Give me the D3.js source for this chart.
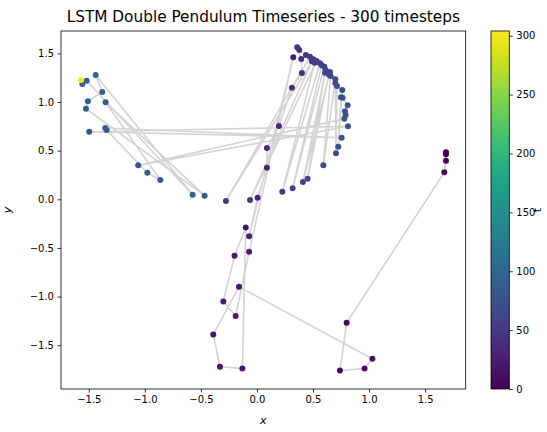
<!DOCTYPE html>
<html><head><meta charset="utf-8">
<script src="https://cdn.jsdelivr.net/npm/d3@7"></script>
<style>body{margin:0;background:#fff}svg{display:block}text{font-family:"DejaVu Sans",sans-serif;fill:#000}</style>
</head><body>
<svg id="c" width="547" height="432"></svg>
<script>
// time index of each predicted point (early purple part, then blue part, last point)
const tVals = [0,2,4,6,8,10,12,14,16,17,18,19,20,21,22,23,24,26,28,30,32,34,36,38,40,42,
  45,46,47,48,49,50,51,52,53,54,55,56,57,58,59,60,61,62,63,64,65,66,67,68,69,70,
  71,72,73,74,75,76,77,78,79,80,81,82,83,84,85,86,87,88,89,90,91,92,93,94,95,96,304];
const xVals = [1.686,1.686,1.686,1.671,0.80,0.74,0.96,1.03,-0.16,-0.39,-0.33,-0.13,-0.10,-0.20,-0.30,-0.19,-0.07,0.324,-0.07,0.006,0.089,0.089,0.196,0.312,0.401,0.395,
  0.36,0.377,0.437,0.473,-0.277,0.502,0.49,-0.062,0.532,0.515,0.226,0.562,0.577,0.318,0.601,0.613,0.41,0.651,0.607,0.452,0.642,0.657,0.592,0.699,0.699,0.705,
  0.714,0.761,0.725,0.749,0.764,0.809,0.785,0.791,0.779,-1.059,0.812,-1.496,0.755,-1.353,-1.341,-0.978,-0.862,-1.350,-0.467,-1.525,-1.508,-1.380,-1.439,-0.574,-1.519,-1.558,-1.570];
const yVals = [0.483,0.462,0.397,0.277,-1.27,-1.76,-1.74,-1.64,-0.90,-1.39,-1.72,-1.74,-0.29,-0.58,-1.05,-1.20,-0.54,1.459,-0.38,0.016,0.325,0.527,0.753,1.147,1.298,1.442,
  1.562,1.534,1.483,1.466,-0.017,1.439,1.418,-0.007,1.421,1.404,0.078,1.398,1.377,0.114,1.363,1.326,0.178,1.308,1.301,0.212,1.281,1.267,0.349,1.233,1.192,0.473,
  1.164,1.123,0.541,1.048,1.044,0.966,0.904,0.866,0.828,0.349,0.750,0.695,0.633,0.733,0.712,0.273,0.198,0.997,0.037,0.931,1.007,1.103,1.277,0.047,1.219,1.185,1.226];
const xTicks = [-1.5,-1.0,-0.5,0.0,0.5,1.0,1.5];
const yTicks = [-1.5,-1.0,-0.5,0.0,0.5,1.0,1.5];
const cTicks = [0,50,100,150,200,250,300];
const titleText = "LSTM Double Pendulum Timeseries - 300 timesteps";

const svg = d3.select("#c");
const L=61, R=465.7, T=31, B=389;
const x = d3.scaleLinear().domain([-1.748,1.862]).range([L,R]);
const y = d3.scaleLinear().domain([-1.95,1.73]).range([B,T]);
const tMax = 304;
const color = d3.scaleSequential(d3.interpolateViridis).domain([0,tMax]);
const pts = tVals.map((t,i)=>({t, x:xVals[i], y:yVals[i]}));

const fmt = d => d<0 ? "\u2212"+Math.abs(d).toFixed(1) : d.toFixed(1);

svg.append("path").datum(pts)
  .attr("d", d3.line().x(d=>x(d.x)).y(d=>y(d.y)))
  .attr("fill","none").attr("stroke","#d3d3d3").attr("stroke-width",1.6);
svg.append("g").selectAll("circle").data(pts).join("circle")
  .attr("cx",d=>x(d.x)).attr("cy",d=>y(d.y)).attr("r",3)
  .attr("fill",d=>color(d.t));

const gx = svg.append("g").attr("transform",`translate(0,${B})`)
  .call(d3.axisBottom(x).tickValues(xTicks).tickFormat(fmt).tickSizeOuter(0).tickSize(3.5).tickPadding(3.5));
const gy = svg.append("g").attr("transform",`translate(${L},0)`)
  .call(d3.axisLeft(y).tickValues(yTicks).tickFormat(fmt).tickSizeOuter(0).tickSize(3.5).tickPadding(3.5));
[gx,gy].forEach(g=>{g.select(".domain").remove();g.selectAll("text").attr("font-size",10).attr("font-family","DejaVu Sans");
  g.selectAll("line").attr("stroke","#000").attr("stroke-width",0.8);});
svg.append("rect").attr("x",L).attr("y",T).attr("width",R-L).attr("height",B-T)
  .attr("fill","none").attr("stroke","#000").attr("stroke-width",0.8);

svg.append("text").attr("x",(L+R)/2).attr("y",22).attr("text-anchor","middle").attr("font-size",15.3).text(titleText);
svg.append("text").attr("x",(L+R)/2).attr("y",424).attr("text-anchor","middle").attr("font-size",11).attr("font-style","italic").text("x");
svg.append("text").attr("transform",`translate(11,${(T+B)/2}) rotate(-90)`).attr("text-anchor","middle").attr("font-size",11).attr("font-style","italic").text("y");

const cbL=491, cbR=509.3;
const cy = d3.scaleLinear().domain([0,tMax]).range([B,T]);
const defs = svg.append("defs");
const grad = defs.append("linearGradient").attr("id","vg").attr("x1",0).attr("y1",1).attr("x2",0).attr("y2",0);
d3.range(0,1.0001,0.05).forEach(s=>grad.append("stop").attr("offset",s).attr("stop-color",d3.interpolateViridis(s)));
svg.append("rect").attr("x",cbL).attr("y",T).attr("width",cbR-cbL).attr("height",B-T).attr("fill","url(#vg)")
  .attr("stroke","#000").attr("stroke-width",0.8);
const gc = svg.append("g").attr("transform",`translate(${cbR},0)`)
  .call(d3.axisRight(cy).tickValues(cTicks).tickSizeOuter(0).tickSize(3.5).tickPadding(3.5));
gc.select(".domain").remove();
gc.selectAll("text").attr("font-size",10).attr("font-family","DejaVu Sans");
gc.selectAll("line").attr("stroke","#000").attr("stroke-width",0.8);
svg.append("text").attr("transform",`translate(541,${(T+B)/2}) rotate(-90)`).attr("text-anchor","middle").attr("font-size",11).text("t");
</script>
</body></html>
